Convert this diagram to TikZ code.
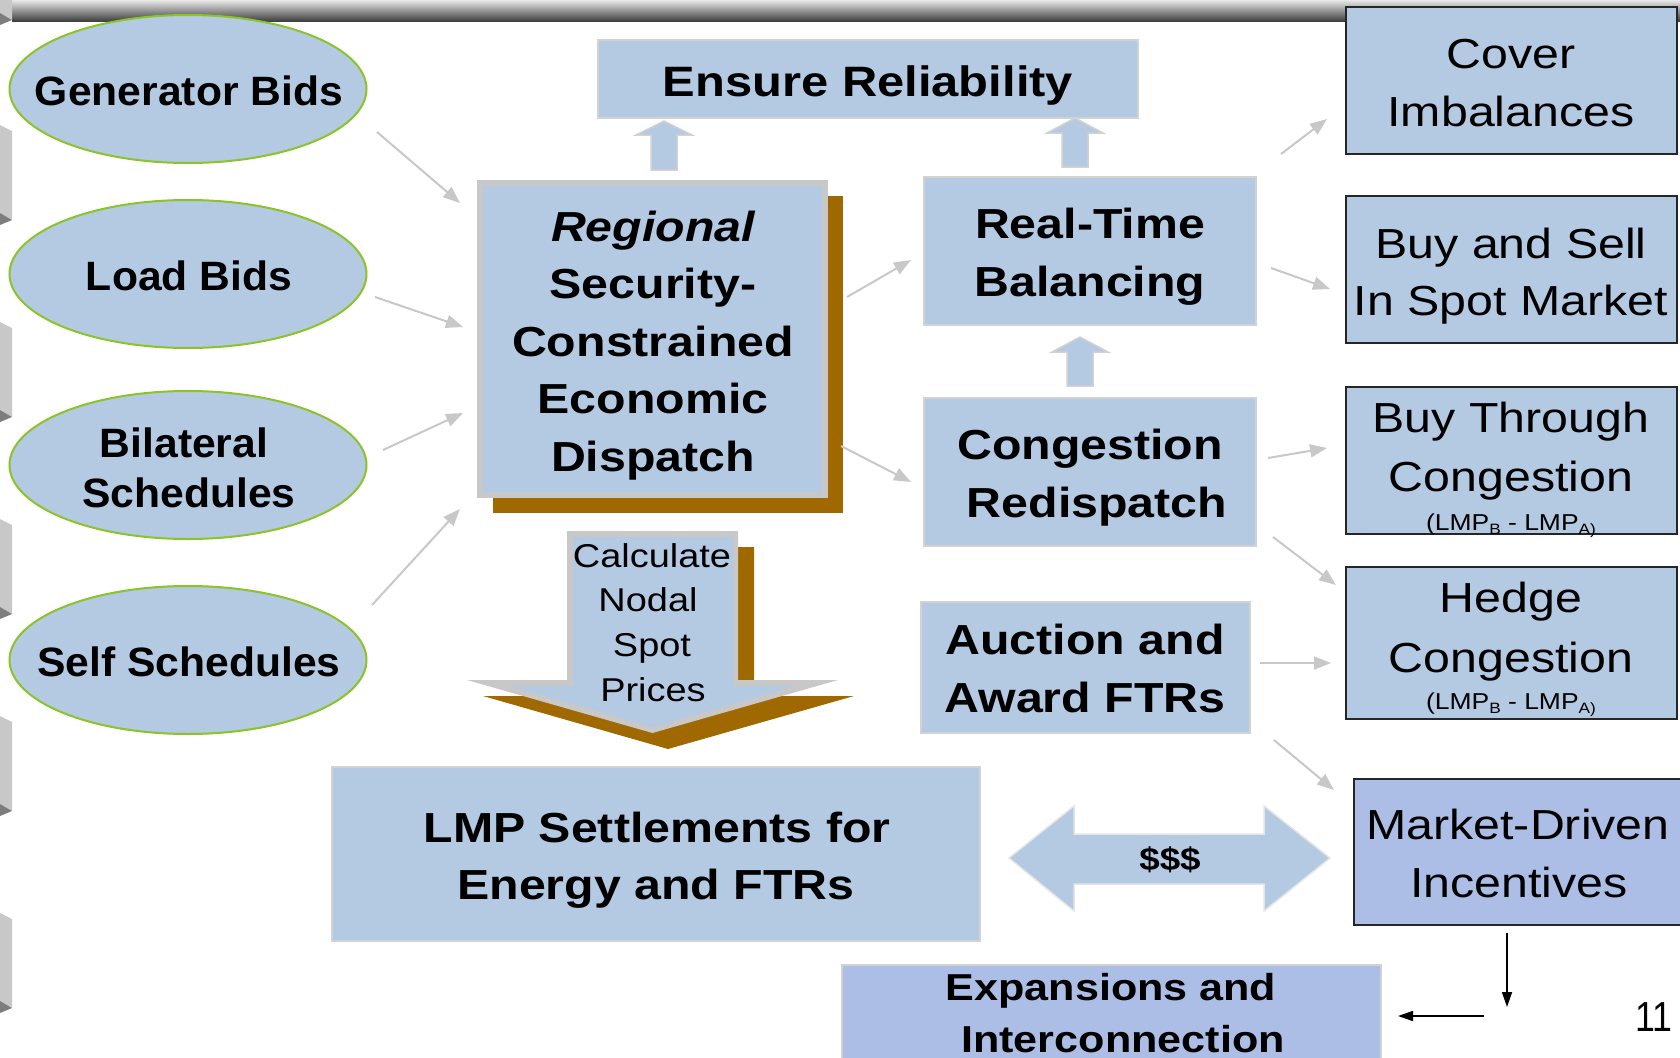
\documentclass[tikz,border=0pt]{standalone}
\usepackage{fontspec}
\setmainfont{Liberation Sans}
\newfontfamily\fs[FakeStretch=1.15]{Liberation Sans}
\newfontfamily\fe[FakeStretch=1.04]{Liberation Sans}
\newfontfamily\fn[FakeStretch=0.85]{Liberation Sans}
\usetikzlibrary{arrows.meta,shapes.geometric}
\definecolor{boxblue}{RGB}{180,201,226}
\definecolor{lav}{RGB}{172,190,230}
\definecolor{ellgreen}{RGB}{140,195,40}
\definecolor{lgray}{RGB}{210,210,210}
\definecolor{scedgray}{RGB}{200,200,200}
\definecolor{brown}{RGB}{160,105,0}
\definecolor{argray}{RGB}{200,200,200}
\definecolor{tabl}{RGB}{200,200,200}
\definecolor{tabd}{RGB}{125,125,125}
\tikzset{
  ell/.style={ellipse, draw=ellgreen, line width=2pt, fill=boxblue, minimum width=357pt, minimum height=148pt, inner sep=0pt},
  lbox/.style={rectangle, draw=lgray, line width=2pt, fill=boxblue, inner sep=0pt},
  kbox/.style={rectangle, draw=black!85, line width=2.5pt, fill=boxblue, inner sep=0pt},
  te/.style={anchor=base, inner sep=0pt, font=\fe\bfseries\fontsize{41}{41}\selectfont},
  tb/.style={anchor=base, inner sep=0pt, font=\fs\bfseries\fontsize{42}{42}\selectfont},
  tr/.style={anchor=base, inner sep=0pt, font=\fs\fontsize{42}{42}\selectfont},
  tsmall/.style={anchor=base, inner sep=0pt, font=\fs\fontsize{23}{23}\selectfont},
  garrow/.style={draw=argray, line width=2pt, -{Triangle[length=17pt,width=13pt]}},
  karrow/.style={draw=black, line width=1.6pt, -{Triangle[length=15pt,width=10pt]}},
  blockarrow/.style={fill=boxblue, draw=lgray, line width=1.5pt},
}
\newcommand{\lmpsub}[1]{\raisebox{-4pt}{\fontsize{15}{15}\selectfont #1}}
\begin{document}
\begin{tikzpicture}[x=1pt,y=-1pt]
\useasboundingbox (0,0) rectangle (1680,1057);
\clip (0,0) rectangle (1680,1057);
\fill[white] (0,0) rectangle (1680,1057);

% top bar
\shade[top color=gray!18, bottom color=black!78] (12,0) rectangle (1680,22);
\fill[tabl] (0,0) -- (12,0) -- (12,20) -- (0,13) -- cycle;
\fill[tabd] (0,13) -- (12,20) -- (0,25) -- cycle;
% left tabs
\foreach \y in {125,322,519,716,913} {
  \fill[tabl] (0,\y) -- (12,\y+6) -- (12,\y+95) -- (0,\y+88) -- cycle;
  \fill[tabd] (0,\y+88) -- (12,\y+95) -- (0,\y+100) -- cycle;
}

% ellipses
\node[ell] (gen) at (188,89) {};
\node[ell] (load) at (188,274) {};
\node[ell] (bil) at (188,465) {};
\node[ell] (self) at (188,660) {};
\node[te] (gen-t) at (189,105) {Generator Bids};
\node[te] (load-t) at (189,290) {Load Bids};
\node[te] (bil-t1) at (184,457) {Bilateral};
\node[te] (bil-t2) at (189,507) {Schedules};
\node[te] (self-t) at (189,676) {Self Schedules};

% Ensure Reliability
\node[lbox, minimum width=540pt, minimum height=78pt] (ens) at (868,79) {};
\node[tb, font=\fs\bfseries\fontsize{42.5}{42.5}\selectfont] (ens-t) at (868,96) {Ensure Reliability};

% up block arrows
\draw[blockarrow] (664,121) -- (692,135) -- (677,135) -- (677,170) -- (651,170) -- (651,135) -- (636,135) -- cycle;
\draw[blockarrow] (1075,118) -- (1103,133) -- (1088,133) -- (1088,167) -- (1062,167) -- (1062,133) -- (1047,133) -- cycle;
\draw[blockarrow] (1080,337) -- (1108,352) -- (1093,352) -- (1093,386) -- (1067,386) -- (1067,352) -- (1052,352) -- cycle;

% SCED
\node[rectangle, fill=brown, minimum width=350pt, minimum height=317pt, inner sep=0pt] (sced-sh) at (668,354.5) {};
\node[rectangle, draw=scedgray, line width=6pt, fill=boxblue, minimum width=345pt, minimum height=312pt, inner sep=0pt] (sced) at (652.5,339) {};
\node[tb] (sced-t1) at (653,241) {\itshape Regional};
\node[tb] (sced-t2) at (653,298) {Security-};
\node[tb] (sced-t3) at (653,356) {Constrained};
\node[tb] (sced-t4) at (653,413) {Economic};
\node[tb] (sced-t5) at (653,471) {Dispatch};

% Real-Time, Congestion, Auction
\node[lbox, minimum width=332pt, minimum height=148pt] (rt) at (1090,251) {};
\node[tb] (rt-t1) at (1090,238) {Real-Time};
\node[tb] (rt-t2) at (1090,296) {Balancing};
\node[lbox, minimum width=332pt, minimum height=148pt] (cr) at (1090,472) {};
\node[tb] (cr-t1) at (1090,459) {Congestion};
\node[tb] (cr-t2) at (1097,517) {Redispatch};
\node[lbox, minimum width=329pt, minimum height=131pt] (au) at (1085.5,667.5) {};
\node[tb] (au-t1) at (1085,654) {Auction and};
\node[tb] (au-t2) at (1085,712) {Award FTRs};

% Calculate arrow
\fill[brown] (583,547) -- (754,547) -- (754,696) -- (854,696) -- (668,749) -- (483,696) -- (583,696) -- cycle;
\fill[scedgray] (567,531) -- (738,531) -- (738,680) -- (838,680) -- (652.5,733) -- (467,680) -- (567,680) -- cycle;
\fill[boxblue] (573,537) -- (733,537) -- (733,686) -- (795,686) -- (652.5,727) -- (510,686) -- (573,686) -- cycle;
\node[tr, font=\fs\fontsize{33}{33}\selectfont] (calc-t1) at (652,567) {Calculate};
\node[tr, font=\fs\fontsize{33}{33}\selectfont] (calc-t2) at (648,611) {Nodal};
\node[tr, font=\fs\fontsize{33}{33}\selectfont] (calc-t3) at (652,656) {Spot};
\node[tr, font=\fs\fontsize{33}{33}\selectfont] (calc-t4) at (653,701) {Prices};

% LMP box
\node[lbox, minimum width=648pt, minimum height=174pt] (lmp) at (656,854) {};
\node[tb] (lmp-t1) at (657,842) {LMP Settlements for};
\node[tb] (lmp-t2) at (656,899) {Energy and FTRs};

% double arrow
\draw[fill=boxblue, draw=gray!20, line width=1.5pt] (1009,858) -- (1074,806) -- (1074,834) -- (1264,834) -- (1264,806) -- (1330,858) -- (1264,911) -- (1264,884) -- (1074,884) -- (1074,911) -- cycle;
\node[tb, font=\fs\bfseries\fontsize{32}{32}\selectfont] (dol) at (1170,870) {\$\$\$};

% Expansions
\node[rectangle, draw=lgray, line width=2pt, fill=lav, minimum width=539pt, minimum height=110pt, inner sep=0pt] (ex) at (1111.5,1020) {};
\node[tb, font=\fs\bfseries\fontsize{37.5}{37.5}\selectfont] (ex-t1) at (1111,1000) {Expansions and};
\node[tb, font=\fs\bfseries\fontsize{37.5}{37.5}\selectfont] (ex-t2) at (1123,1052) {Interconnection};

% right column
\node[kbox, minimum width=331pt, minimum height=147pt] (cov) at (1511.5,80.5) {};
\node[tr] (cov-t1) at (1511,69) {Cover};
\node[tr] (cov-t2) at (1511,126) {Imbalances};
\node[kbox, minimum width=331pt, minimum height=147pt] (bs) at (1511.5,269.5) {};
\node[tr] (bs-t1) at (1511,258) {Buy and Sell};
\node[tr] (bs-t2) at (1511,315) {In Spot Market};
\node[kbox, minimum width=331pt, minimum height=147pt] (bt) at (1511.5,460.5) {};
\node[tr] (bt-t1) at (1511,432) {Buy Through};
\node[tr] (bt-t2) at (1511,491) {Congestion};
\node[tsmall] (bt-t3) at (1511,530) {(LMP\lmpsub{B} - LMP\lmpsub{A)}};
\node[kbox, minimum width=331pt, minimum height=152pt] (hc) at (1511.5,643) {};
\node[tr] (hc-t1) at (1511,612) {Hedge};
\node[tr] (hc-t2) at (1511,672) {Congestion};
\node[tsmall] (hc-t3) at (1511,709) {(LMP\lmpsub{B} - LMP\lmpsub{A)}};
\node[kbox, fill=lav, minimum width=346pt, minimum height=146pt] (md) at (1527,852) {};
\node[tr] (md-t1) at (1518,839) {Market-Driven};
\node[tr] (md-t2) at (1519,897) {Incentives};

% page number
\node[anchor=base, inner sep=0pt, font=\fn\fontsize{42}{42}\selectfont] (pg) at (1654,1031) {11};

% gray connectors
\coordinate (g1) at (377,132);  \coordinate (g1e) at (460,203);
\coordinate (l1) at (375,297);  \coordinate (l1e) at (463,327);
\coordinate (b1) at (383,450);  \coordinate (b1e) at (463,413);
\coordinate (s1) at (372,605);  \coordinate (s1e) at (460,509);
\coordinate (x1) at (847,297);  \coordinate (x1e) at (911,260);
\coordinate (x2) at (841,446);  \coordinate (x2e) at (911,482);
\coordinate (r1) at (1281,154); \coordinate (r1e) at (1327,119);
\coordinate (r2) at (1271,268); \coordinate (r2e) at (1330,289);
\coordinate (c1) at (1268,458); \coordinate (c1e) at (1327,448);
\coordinate (c2) at (1273,537); \coordinate (c2e) at (1336,585);
\coordinate (u1) at (1260,663); \coordinate (u1e) at (1331,663);
\coordinate (u2) at (1274,740); \coordinate (u2e) at (1334,790);
\draw[garrow] (g1) -- (g1e);
\draw[garrow] (l1) -- (l1e);
\draw[garrow] (b1) -- (b1e);
\draw[garrow] (s1) -- (s1e);
\draw[garrow] (x1) -- (x1e);
\draw[garrow] (x2) -- (x2e);
\draw[garrow] (r1) -- (r1e);
\draw[garrow] (r2) -- (r2e);
\draw[garrow] (c1) -- (c1e);
\draw[garrow] (c2) -- (c2e);
\draw[garrow] (u1) -- (u1e);
\draw[garrow] (u2) -- (u2e);

% black connectors
\coordinate (k1) at (1507,933); \coordinate (k1e) at (1507,1007);
\coordinate (k2) at (1484,1016); \coordinate (k2e) at (1398,1016);
\draw[karrow] (k1) -- (k1e);
\draw[karrow] (k2) -- (k2e);
\end{tikzpicture}
\end{document}
